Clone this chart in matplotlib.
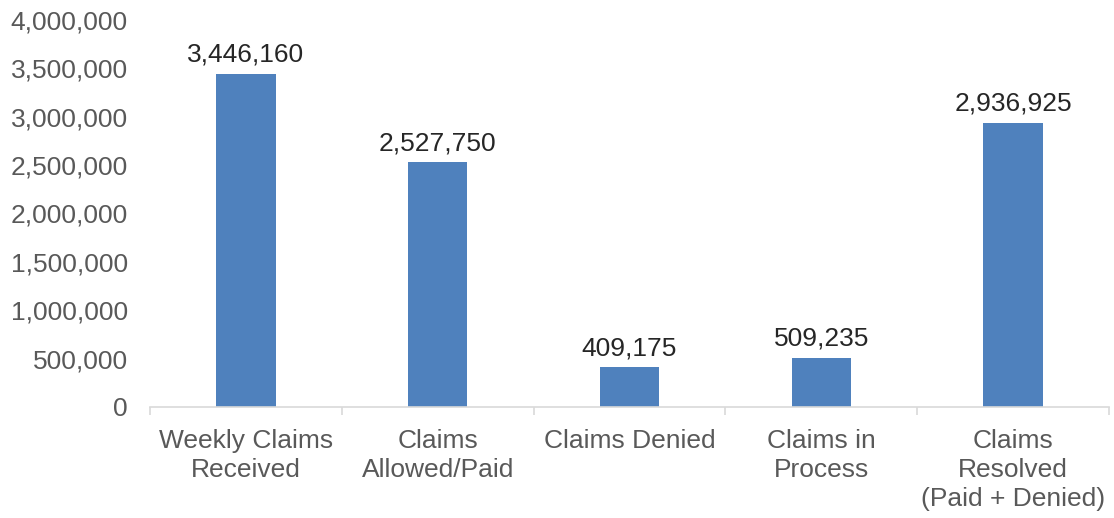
import matplotlib
matplotlib.use("Agg")
import matplotlib.pyplot as plt
from matplotlib.ticker import FuncFormatter

categories = ["Weekly Claims\nReceived", "Claims\nAllowed/Paid", "Claims Denied",
              "Claims in\nProcess", "Claims\nResolved\n(Paid + Denied)"]
values = [3446160, 2527750, 409175, 509235, 2936925]

plt.rcParams['font.family'] = ['Liberation Sans', 'DejaVu Sans']

fig = plt.figure(figsize=(11.14, 5.18), dpi=100)
ax = fig.add_axes([150/1114, (518-407)/518, (1109-150)/1114, (407-20)/518])

x = list(range(len(values)))
bars = ax.bar(x, values, width=0.31, color="#4f81bd")
ax.set_xlim(-0.5, len(values) - 0.5)
ax.set_ylim(0, 4000000)
ax.set_yticks(range(0, 4000001, 500000))
ax.yaxis.set_major_formatter(FuncFormatter(lambda v, p: f"{int(v):,}"))

for xi, v in zip(x, values):
    ax.annotate(f"{v:,}", (xi, v), xytext=(0, 5), textcoords="offset points",
                ha="center", va="bottom", fontsize=19, color="#262626")

ax.set_xticks([i - 0.5 for i in range(len(values) + 1)], minor=False)
ax.set_xticklabels([])
ax.set_xticks(x, minor=True)
ax.set_xticklabels(categories, minor=True, fontsize=19, color="#595959", va="top",
                   linespacing=1.25)
ax.tick_params(axis="x", which="major", length=6, color="#d9d9d9", width=1.2)
ax.tick_params(axis="x", which="minor", length=0, pad=16)
ax.tick_params(axis="y", length=0, labelsize=19, labelcolor="#595959", pad=16)

for s in ["top", "right", "left"]:
    ax.spines[s].set_visible(False)
ax.spines["bottom"].set_color("#d9d9d9")
ax.spines["bottom"].set_linewidth(1.2)

fig.savefig("out.png", dpi=100)
